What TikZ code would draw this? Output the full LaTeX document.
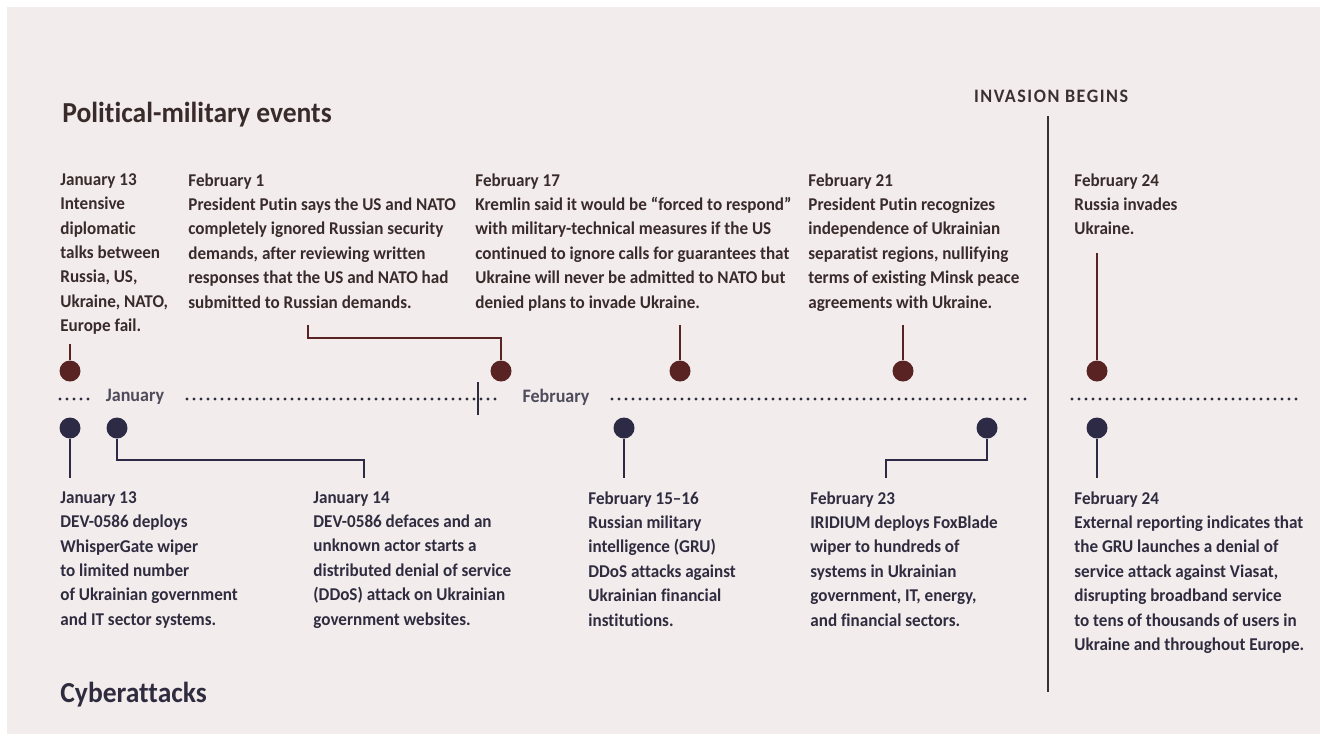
\documentclass[tikz,border=0pt]{standalone}
\usepackage{fontspec}
\setmainfont{Carlito}[FakeStretch=0.95, Ligatures=NoCommon]
\usepackage{xcolor}
\usepackage{tikz}

\definecolor{paper}{HTML}{F2ECEC}
\definecolor{polcol}{HTML}{5A2323}
\definecolor{cybcol}{HTML}{2C2A44}
\definecolor{poltext}{HTML}{3A2B2B}
\definecolor{cybtext}{HTML}{2F2C3F}
\definecolor{rulecol}{HTML}{3A3030}

\tikzset{
  evtext/.style={anchor=north west, inner sep=0pt, align=left, font=\bfseries\fontsize{9}{12.2}\selectfont},
  poltxt/.style={evtext, text=poltext},
  cybtxt/.style={evtext, text=cybtext},
  pdot/.style={circle, fill=polcol, inner sep=0pt, minimum size=10.5pt},
  cdot/.style={circle, fill=cybcol, inner sep=0pt, minimum size=10.5pt},
  pstem/.style={draw=polcol, line width=1pt},
  cstem/.style={draw=cybcol, line width=1pt},
  axisdots/.style={draw=cybtext, line width=1.6pt, line cap=round, dash pattern=on 0pt off 3.5pt},
  month/.style={inner sep=0pt, text=cybtext!85, font=\bfseries\fontsize{9.5}{11}\selectfont},
  heading/.style={anchor=base west, inner sep=0pt, font=\bfseries\fontsize{14.5}{17}\selectfont}
}

\begin{document}
\begin{tikzpicture}[x=0.5pt, y=-0.5pt]
            \fill[white] (0,0) rectangle (1320,740);
            \fill[paper] (7,7) rectangle (1320,734);
            \useasboundingbox (0,0) rectangle (1320,740);
            % Headings
            \node[heading, text=poltext] (poltitle) at (62,122) {Political-military events};
            \node[heading, text=cybtext] (cybtitle) at (60,702) {Cyberattacks};
            \node[inner sep=0pt, text=rulecol, font=\bfseries\fontsize{9.5}{11}\selectfont\addfontfeature{LetterSpace=8}] (invasion) at (1051,96) {INVASION BEGINS};
            \coordinate (ruletop) at (1048,116);
            \coordinate (rulebot) at (1048,692);
            \draw[rulecol, line width=1pt] (ruletop) -- (rulebot);
            % Political-military events
            \node[poltxt] (pt1) at (60,173) {January 13\\Intensive\\diplomatic\\talks between\\Russia, US,\\Ukraine, NATO,\\Europe fail.};
            \node[poltxt] (pt2) at (188,173) {February 1\\President Putin says the US and NATO\\completely ignored Russian security\\demands, after reviewing written\\responses that the US and NATO had\\submitted to Russian demands.};
            \node[poltxt] (pt3) at (475,173) {February 17\\Kremlin said it would be “forced to respond”\\with military-technical measures if the US\\continued to ignore calls for guarantees that\\Ukraine will never be admitted to NATO but\\denied plans to invade Ukraine.};
            \node[poltxt] (pt4) at (808,173) {February 21\\President Putin recognizes\\independence of Ukrainian\\separatist regions, nullifying\\terms of existing Minsk peace\\agreements with Ukraine.};
            \node[poltxt] (pt5) at (1074,173) {February 24\\Russia invades\\Ukraine.};
            \node[pdot] (p1) at (70,371) {};
            \node[pdot] (p2) at (501,371) {};
            \node[pdot] (p3) at (680,371) {};
            \node[pdot] (p4) at (903,371) {};
            \node[pdot] (p5) at (1097,371) {};
            \coordinate (p1top) at (70,344);
            \coordinate (p2top) at (308,325);
            \coordinate (p3top) at (680,325);
            \coordinate (p4top) at (903,325);
            \coordinate (p5top) at (1097,253);
            \draw[pstem] (p1top) -- (p1);
            \draw[pstem] (p2top) -- ++(0,13) -| (p2);
            \draw[pstem] (p3top) -- (p3);
            \draw[pstem] (p4top) -- (p4);
            \draw[pstem] (p5top) -- (p5);
            % Time axis
            \node[month] (jan) at (135,397) {January};
            \node[month] (feb) at (556,397) {February};
            \draw[axisdots] (60,399) -- (90,399);
            \draw[axisdots] (187,399) -- (502,399);
            \draw[axisdots] (612,399) -- (1026,399);
            \draw[axisdots] (1072,399) -- (1302,399);
            \draw[cybtext, line width=1pt] (478,382) -- (478,415);
            % Cyberattacks
            \node[cdot] (c1) at (70,428) {};
            \node[cdot] (c2) at (117,428) {};
            \node[cdot] (c3) at (624,428) {};
            \node[cdot] (c4) at (987,428) {};
            \node[cdot] (c5) at (1097,428) {};
            \node[cybtxt] (ct1) at (60,491) {January 13\\DEV-0586 deploys\\WhisperGate wiper\\to limited number\\of Ukrainian government\\and IT sector systems.};
            \node[cybtxt] (ct2) at (313,491) {January 14\\DEV-0586 defaces and an\\unknown actor starts a\\distributed denial of service\\(DDoS) attack on Ukrainian\\government websites.};
            \node[cybtxt] (ct3) at (588,491) {February 15–16\\Russian military\\intelligence (GRU)\\DDoS attacks against\\Ukrainian financial\\institutions.};
            \node[cybtxt] (ct4) at (810,491) {February 23\\IRIDIUM deploys FoxBlade\\wiper to hundreds of\\systems in Ukrainian\\government, IT, energy,\\and financial sectors.};
            \node[cybtxt] (ct5) at (1074,491) {February 24\\External reporting indicates that\\the GRU launches a denial of\\service attack against Viasat,\\disrupting broadband service\\to tens of thousands of users in\\Ukraine and throughout Europe.};
            \coordinate (c1end) at (70,478);
            \coordinate (c2end) at (364,478);
            \coordinate (c3end) at (624,478);
            \coordinate (c4end) at (886,478);
            \coordinate (c5end) at (1097,478);
            \draw[cstem] (c1) -- (c1end);
            \draw[cstem] (c2) -- ++(0,32) -| (c2end);
            \draw[cstem] (c3) -- (c3end);
            \draw[cstem] (c4) -- ++(0,32) -| (c4end);
            \draw[cstem] (c5) -- (c5end);
\end{tikzpicture}
\end{document}
